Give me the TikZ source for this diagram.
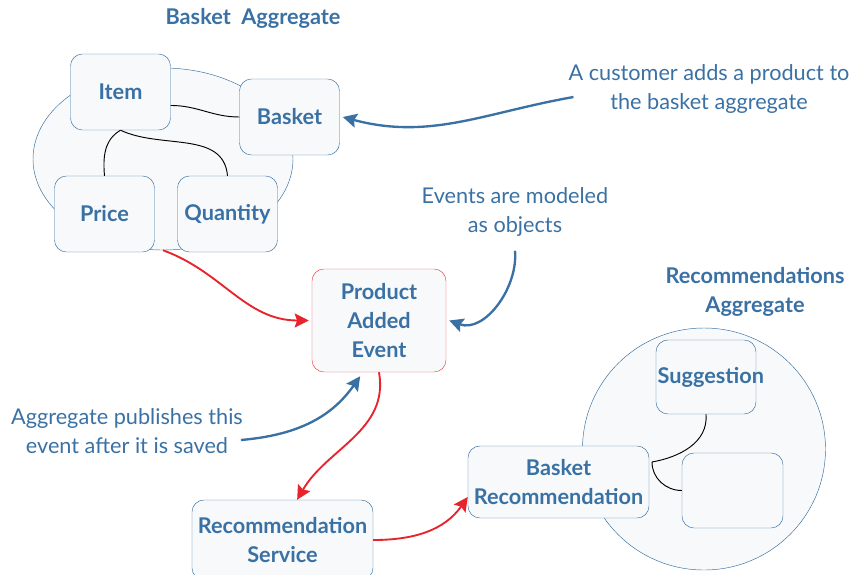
\documentclass[tikz,border=0pt]{standalone}
\usepackage{fontspec}
\setmainfont{Lato}
\usetikzlibrary{positioning, arrows.meta, shapes.geometric}
\definecolor{DDD_Blue}{HTML}{3A71A4}
\definecolor{DDD_Red}{HTML}{E8232B}
\definecolor{DDD_Fill}{HTML}{F7F9FA}

\begin{document}
\begin{tikzpicture}[
  x=0.03cm, y=-0.03cm,
  every node/.style={font=\fontsize{18.5}{25}\selectfont, text=DDD_Blue},
  entity/.style={draw=DDD_Blue, fill=DDD_Fill, rounded corners=0.36cm,
    minimum width=3cm, minimum height=2.28cm, align=center, inner sep=1pt,
    font=\fontsize{18.5}{25}\selectfont\bfseries},
  aggregate/.style={draw=DDD_Blue, fill=DDD_Fill, ellipse, thin},
  heading/.style={font=\fontsize{18.5}{25}\selectfont\bfseries, align=center},
  note/.style={align=center},
  link/.style={black, thick},
  flow/.style={-{Stealth[length=12pt, width=12pt, inset=2pt]}, DDD_Red, line width=1.6pt},
  hint/.style={-{Stealth[length=12pt, width=12pt, inset=2pt]}, DDD_Blue, line width=2pt}
]
  \useasboundingbox (0,0) rectangle (854,574);

  % Basket aggregate
  \node[heading] (baskettitle) at (253,18) {Basket~~Aggregate};
  \node[aggregate, minimum width=7.8cm, minimum height=5.46cm] (basketagg) at (163,159) {};
  \node[entity] (item) at (120.5,92) {Item};
  \node[entity] (basket) at (289.5,117) {Basket};
  \node[entity] (price) at (104.5,214) {Price};
  \node[entity] (quantity) at (227.5,214) {Quantity};

  \draw[link] (item.345) to[out=0, in=180] (basket.west);
  \draw[link] (item.south) to[out=-150, in=95] (price.north);
  \draw[link] (item.south) to[out=-25, in=95] (quantity.north);

  % Event
  \node[entity, draw=DDD_Red!85, minimum width=4.02cm, minimum height=3.09cm]
    (event) at (379,320.5) {Product\\Added\\Event};

  % Recommendations aggregate
  \node[heading] (rectitle) at (755,292) {Recommendations\\Aggregate};
  \node[aggregate, minimum width=7.29cm, minimum height=7.26cm] (recagg) at (704,449) {};
  \node[entity, minimum height=2.22cm, text width=2.9cm] (sugg) at (706,377) {Suggestion};
  \node[entity, minimum width=3.03cm, minimum height=2.25cm] (slot) at (732.5,490.5) {};
  \node[entity, minimum width=5.43cm, minimum height=2.16cm] (basketrec) at (558.5,482)
    {Basket\\Recommendation};
  \node[entity, minimum width=5.43cm, minimum height=2.4cm] (recservice) at (282.5,540)
    {Recommendation\\Service};

  \coordinate (bend) at (652,462);
  \draw[link] (sugg.south) to[out=-85, in=10] (bend) to[out=-90, in=180] (slot.west);

  % Notes
  \node[note] (addnote) at (709,89) {A customer adds a product to\\the basket aggregate};
  \node[note] (modelnote) at (515,212) {Events are modeled\\as objects};
  \node[note] (publishnote) at (127,431) {Aggregate publishes this\\event after it is saved};

  % Arrows
  \draw[flow] (basketagg.south) to[out=-20, in=180] ([xshift=-3*0.03cm]event.west);
  \draw[flow] (event.south) to[out=-80, in=60] (recservice.70);
  \draw[flow] (recservice.east) to[out=0, in=235] ([yshift=-15*0.03cm]basketrec.west);
  \draw[hint] ([xshift=9*0.03cm, yshift=-8*0.03cm]addnote.west) to[out=190, in=-15] ([xshift=3*0.03cm]basket.east);
  \draw[hint] ([yshift=-10*0.03cm]modelnote.south) to[out=-85, in=-20] ([xshift=3*0.03cm]event.east);
  \draw[hint] ([xshift=-6*0.03cm]publishnote.east |- 0,440) to[out=5, in=-125] ([yshift=-4*0.03cm]event.250);
\end{tikzpicture}
\end{document}
